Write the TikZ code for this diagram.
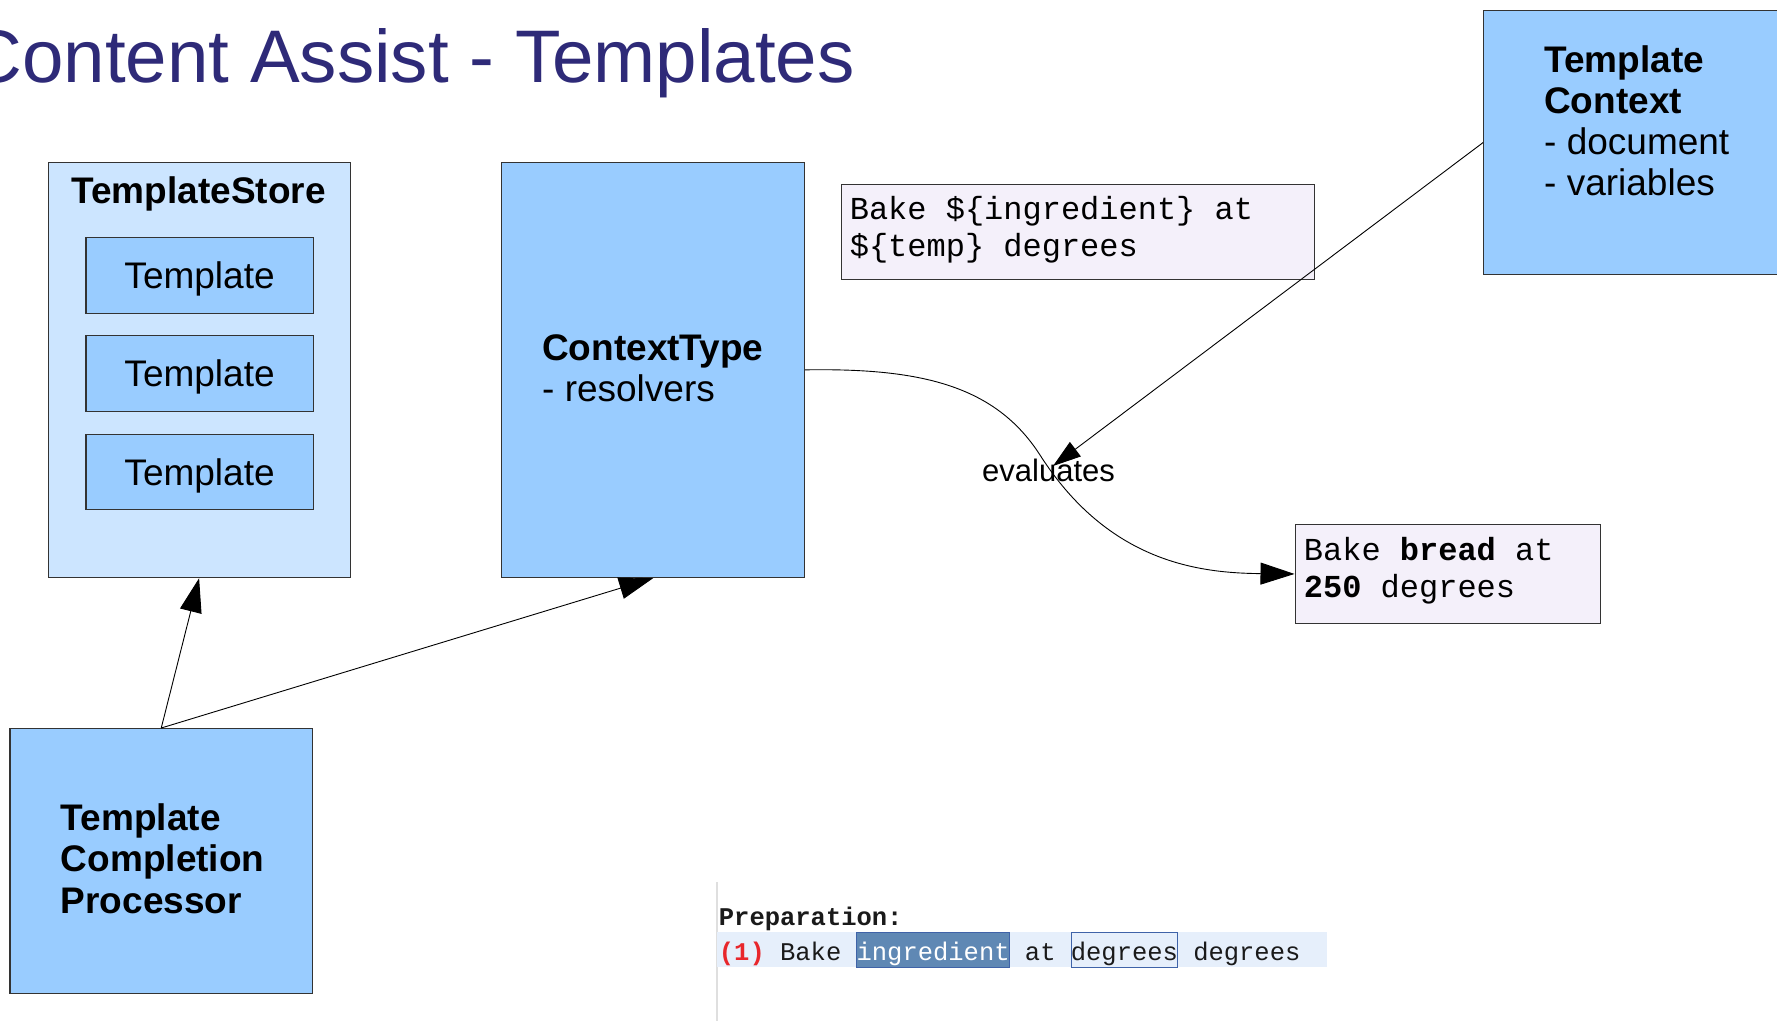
\documentclass[tikz,border=0pt]{standalone}
\usepackage{fontspec}
\setmainfont{Liberation Sans}
\setmonofont{Liberation Mono}
\usetikzlibrary{arrows.meta}
\definecolor{boxblue}{HTML}{99CCFF}
\definecolor{paleblue}{HTML}{CCE5FF}
\definecolor{lavender}{HTML}{F4F0FA}
\definecolor{titlenavy}{HTML}{2E2A78}
\definecolor{edge}{HTML}{333333}
\definecolor{rowband}{HTML}{E6EFFB}
\definecolor{selfill}{HTML}{5F88B4}
\definecolor{selline}{HTML}{3F63A8}
\definecolor{errred}{HTML}{E8262B}
\definecolor{inktext}{HTML}{1A1A1A}
\newcommand{\setfs}[1]{\fontsize{#1pt}{#1pt}\selectfont}
\begin{document}
\begin{tikzpicture}[x=1pt,y=-1pt,
  blk/.style={draw=edge,line width=1.2pt,inner sep=0pt,anchor=north west},
  lbl/.style={inner sep=0pt,anchor=base west},
  conn/.style={line width=0.9pt,draw=black},
  bighead/.style={-{Triangle[length=34pt,width=22pt]}},
  smallhead/.style={-{Triangle[length=28pt,width=18pt]}}]
\useasboundingbox (0,0) rectangle (1777,1021);
\fill[white] (0,0) rectangle (1777,1021);
\clip (0,0) rectangle (1777,1021);

% title
\node[lbl,text=titlenavy] (title) at (-31.6,82) {\setfs{74.5}Content Assist - Templates};

% template store with its templates
\node[blk,fill=paleblue,minimum width=302pt,minimum height=415.5pt] (ts) at (47.5,161.5) {};
\node[inner sep=0pt,anchor=base] (tslbl) at (198.5,203.6) {\setfs{37}\bfseries TemplateStore};
\foreach \n/\y in {t1/237,t2/335,t3/433.5}
  \node[blk,fill=boxblue,minimum width=227.3pt,minimum height=75.5pt,
        text height=26.5pt,text depth=0pt,font=\setfs{37}] (\n) at (85.3,\y) {Template};

% context type
\node[blk,fill=boxblue,minimum width=303pt,minimum height=415.5pt] (ct) at (501,161.5) {};
\node[lbl] (ctl1) at (542,360) {\setfs{37}\bfseries ContextType};
\node[lbl] (ctl2) at (542,401.5) {\setfs{37}- resolvers};

% template context
\node[blk,fill=boxblue,minimum width=330pt,minimum height=264pt] (tc) at (1483,10) {};
\node[lbl] (tcl1) at (1544,72) {\setfs{37}\bfseries Template};
\node[lbl] (tcl2) at (1544,113) {\setfs{37}\bfseries Context};
\node[lbl] (tcl3) at (1544,154) {\setfs{37}- document};
\node[lbl] (tcl4) at (1544,195) {\setfs{37}- variables};

% completion processor
\node[blk,fill=boxblue,minimum width=302.7pt,minimum height=265pt] (tcp) at (9.3,728) {};
\node[lbl] (tcpl1) at (60.7,830) {\setfs{37}\bfseries Template};
\node[lbl] (tcpl2) at (60.7,871.5) {\setfs{37}\bfseries Completion};
\node[lbl] (tcpl3) at (60.7,913) {\setfs{37}\bfseries Processor};

% template pattern and its evaluated result
\node[blk,fill=lavender,minimum width=473pt,minimum height=95pt] (bake) at (840.5,184) {};
\node[lbl] (bakel1) at (849.6,219) {\ttfamily\setfs{32}Bake \$\{ingredient\} at};
\node[lbl] (bakel2) at (849.6,256) {\ttfamily\setfs{32}\$\{temp\} degrees};

\node[blk,fill=lavender,minimum width=305pt,minimum height=98.7pt] (bread) at (1294.5,524) {};
\node[lbl] (breadl1) at (1303.7,560) {\ttfamily\setfs{32}Bake \textbf{bread} at};
\node[lbl] (breadl2) at (1303.7,597) {\ttfamily\setfs{32}\textbf{250} degrees};

% connectors
\draw[conn,bighead] (tcp.north) -- (ts.south);
\draw[conn,bighead] (tcp.north) -- (ct.south);
\coordinate (cmid) at (1040,455);
\draw[conn,bighead] (ct.east) .. controls (920,368) and (995,385) .. (cmid)
  .. controls (1109,563) and (1200,573) .. (bread.west);
\coordinate (evalpt) at (1053,466);
\draw[conn,smallhead] (tc.west) -- (evalpt);
\node[lbl] (evallbl) at (982,481) {\setfs{31}evaluates};

% editor snippet
\draw[gray!25,line width=1.5pt] (717,882) -- (717,1021);
\fill[rowband] (716.6,932) rectangle (1326.5,967);
\draw[selline,fill=selfill,line width=1pt] (856,932) rectangle (1009,967);
\draw[selline,line width=1pt] (1071,932) rectangle (1177,967);
\node[lbl,text=inktext] (prephead) at (718.7,925) {\ttfamily\setfs{25.5}\bfseries Preparation:};
\node[lbl,text=inktext] (preprow) at (718.7,960.7) {\ttfamily\setfs{25.5}\textcolor{errred}{\bfseries(1)} Bake \textcolor{white}{ingredient} at degrees degrees};
\end{tikzpicture}
\end{document}
